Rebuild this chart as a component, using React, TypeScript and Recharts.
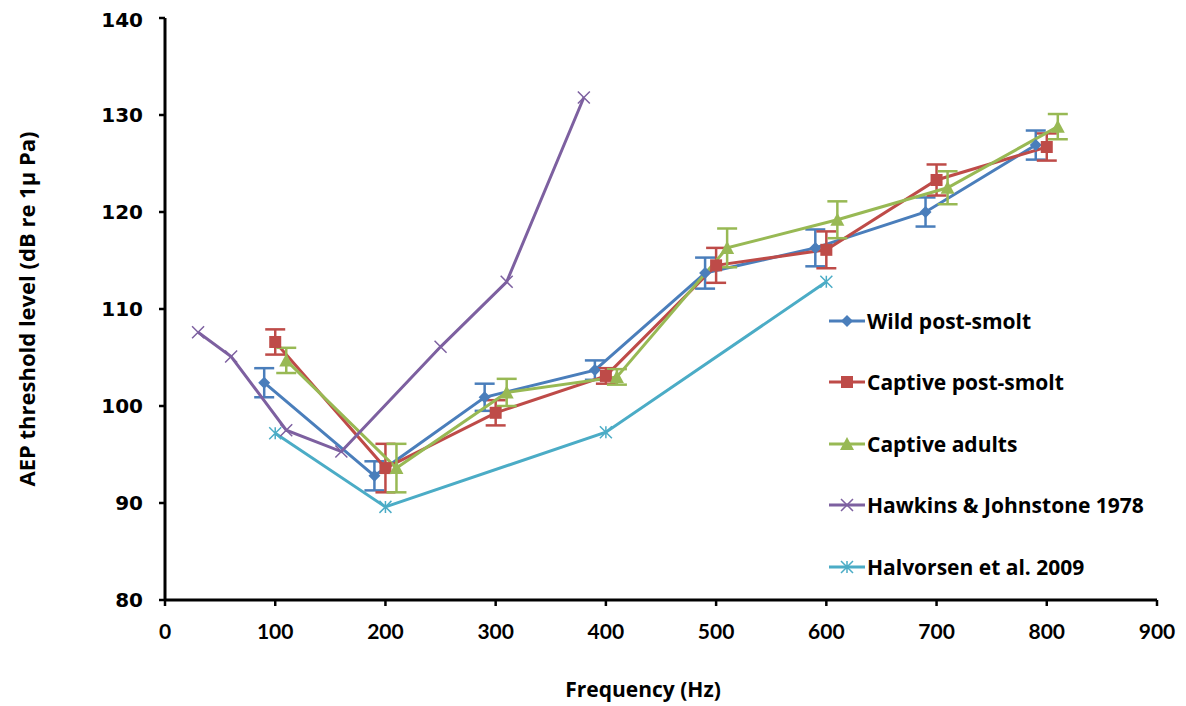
import { LineChart, Line, XAxis, YAxis, ErrorBar, Legend } from 'recharts';

// frequencies are offset by series in the original (wild -10 Hz, adults +10 Hz)
const wildFreq = [90, 190, 290, 390, 490, 590, 690, 790];
const wildLevel = [102.4, 92.8, 100.9, 103.7, 113.7, 116.3, 120.0, 126.9];
const wildErr = [1.5, 1.5, 1.4, 1.0, 1.6, 1.9, 1.5, 1.5];

const captiveFreq = [100, 200, 300, 400, 500, 600, 700, 800];
const captiveLevel = [106.6, 93.6, 99.3, 103.1, 114.5, 116.1, 123.3, 126.7];
const captiveErr = [1.3, 2.5, 1.3, 0.8, 1.8, 1.9, 1.6, 1.4];

const adultFreq = [110, 210, 310, 410, 510, 610, 710, 810];
const adultLevel = [104.7, 93.6, 101.4, 103.0, 116.3, 119.2, 122.5, 128.8];
const adultErr = [1.3, 2.5, 1.4, 0.8, 2.0, 1.9, 1.7, 1.3];

const hawkinsFreq = [30, 60, 110, 160, 250, 310, 380];
const hawkinsLevel = [107.6, 105.1, 97.5, 95.3, 106.1, 112.8, 131.8];

const halvorsenFreq = [100, 200, 400, 600];
const halvorsenLevel = [97.2, 89.6, 97.3, 112.8];

const xTicks = [0, 100, 200, 300, 400, 500, 600, 700, 800, 900];
const yTicks = [80, 90, 100, 110, 120, 130, 140];

const BLUE = '#4a7ebb';
const RED = '#be4b48';
const GREEN = '#98b954';
const PURPLE = '#7d60a0';
const CYAN = '#4bacc6';

const toRows = (freq: number[], level: number[], err?: number[]) =>
  freq.map((f, i) => ({ freq: f, level: level[i], err: err ? err[i] : 0 }));

const wildData = toRows(wildFreq, wildLevel, wildErr);
const captiveData = toRows(captiveFreq, captiveLevel, captiveErr);
const adultData = toRows(adultFreq, adultLevel, adultErr);
const hawkinsData = toRows(hawkinsFreq, hawkinsLevel);
const halvorsenData = toRows(halvorsenFreq, halvorsenLevel);

type MarkerKind = 'diamond' | 'square' | 'triangle' | 'cross' | 'star';

function Marker({ kind, cx, cy, color }: { kind: MarkerKind; cx: number; cy: number; color: string }) {
  const s = 6;
  if (kind === 'diamond')
    return <path d={`M${cx},${cy - s} L${cx + s},${cy} L${cx},${cy + s} L${cx - s},${cy} Z`} fill={color} />;
  if (kind === 'square')
    return <rect x={cx - s} y={cy - s} width={s * 2} height={s * 2} fill={color} />;
  if (kind === 'triangle')
    return <path d={`M${cx},${cy - s - 1} L${cx + s + 1},${cy + s} L${cx - s - 1},${cy + s} Z`} fill={color} />;
  if (kind === 'cross')
    return (
      <path
        d={`M${cx - s},${cy - s} L${cx + s},${cy + s} M${cx - s},${cy + s} L${cx + s},${cy - s}`}
        stroke={color}
        strokeWidth={1.5}
      />
    );
  return (
    <path
      d={`M${cx - s},${cy - s} L${cx + s},${cy + s} M${cx - s},${cy + s} L${cx + s},${cy - s} M${cx},${cy - s} L${cx},${cy + s}`}
      stroke={color}
      strokeWidth={1.5}
    />
  );
}

const dotFor = (kind: MarkerKind, color: string) => (props: any) =>
  <Marker key={`${kind}-${props.index}`} kind={kind} cx={props.cx} cy={props.cy} color={color} />;

const legendItems: { name: string; color: string; kind: MarkerKind }[] = [
  { name: 'Wild post-smolt', color: BLUE, kind: 'diamond' },
  { name: 'Captive post-smolt', color: RED, kind: 'square' },
  { name: 'Captive adults', color: GREEN, kind: 'triangle' },
  { name: 'Hawkins & Johnstone 1978', color: PURPLE, kind: 'cross' },
  { name: 'Halvorsen et al. 2009', color: CYAN, kind: 'star' },
];

function ChartLegend() {
  return (
    <div>
      {legendItems.map((it) => (
        <div key={it.name} style={{ display: 'flex', alignItems: 'center', height: 61.5 }}>
          <svg width={38} height={20}>
            <line x1={1} y1={10} x2={37} y2={10} stroke={it.color} strokeWidth={3} />
            <Marker kind={it.kind} cx={19} cy={10} color={it.color} />
          </svg>
          <span style={{ fontFamily: 'Open Sans', fontWeight: 700, fontSize: 21, color: '#000', marginLeft: 1 }}>
            {it.name}
          </span>
        </div>
      ))}
    </div>
  );
}

const lineProps = { strokeWidth: 3, isAnimationActive: false, activeDot: false as const };

export default function App() {
  return (
    <div style={{ background: '#fff', width: 1170, height: 698 }}>
      <LineChart width={1170} height={698} margin={{ top: 10, right: 21, bottom: 11, left: 5 }}>
        <XAxis
          type="number"
          dataKey="freq"
          domain={[0, 900]}
          ticks={xTicks}
          allowDuplicatedCategory={false}
          height={95}
          axisLine={{ stroke: '#000', strokeWidth: 3 }}
          tickLine={{ stroke: '#000', strokeWidth: 2.5 }}
          tickSize={6}
          tickMargin={18}
          tick={{ fill: '#000', fontFamily: 'Lato', fontWeight: 700, fontSize: 21 }}
          label={{
            value: 'Frequency (Hz)',
            position: 'insideBottom',
            offset: -2,
            dx: -18,
            fill: '#000',
            fontFamily: 'Open Sans',
            fontWeight: 700,
            fontSize: 21,
          }}
        />
        <YAxis
          type="number"
          dataKey="level"
          domain={[80, 140]}
          ticks={yTicks}
          width={152}
          axisLine={{ stroke: '#000', strokeWidth: 3 }}
          tickLine={{ stroke: '#000', strokeWidth: 2.5 }}
          tickSize={6}
          tickMargin={16}
          tick={{ fill: '#000', fontFamily: 'DejaVu Sans', fontWeight: 700, fontSize: 20 }}
          label={{
            value: 'AEP threshold level (dB re 1μ Pa)',
            angle: -90,
            position: 'insideLeft',
            offset: 14,
            style: { textAnchor: 'middle' },
            fill: '#000',
            fontFamily: 'Open Sans',
            fontWeight: 700,
            fontSize: 22,
          }}
        />
        <Legend
          layout="vertical"
          align="center"
          verticalAlign="middle"
          content={() => <ChartLegend />}
          wrapperStyle={{ left: 820, top: 282, width: 350 }}
        />
        <Line data={wildData} dataKey="level" name="Wild post-smolt" stroke={BLUE} dot={dotFor('diamond', BLUE)} {...lineProps}>
          <ErrorBar dataKey="err" direction="y" width={10} strokeWidth={2.5} stroke={BLUE} />
        </Line>
        <Line data={captiveData} dataKey="level" name="Captive post-smolt" stroke={RED} dot={dotFor('square', RED)} {...lineProps}>
          <ErrorBar dataKey="err" direction="y" width={10} strokeWidth={2.5} stroke={RED} />
        </Line>
        <Line data={adultData} dataKey="level" name="Captive adults" stroke={GREEN} dot={dotFor('triangle', GREEN)} {...lineProps}>
          <ErrorBar dataKey="err" direction="y" width={10} strokeWidth={2.5} stroke={GREEN} />
        </Line>
        <Line data={hawkinsData} dataKey="level" name="Hawkins & Johnstone 1978" stroke={PURPLE} dot={dotFor('cross', PURPLE)} {...lineProps} />
        <Line data={halvorsenData} dataKey="level" name="Halvorsen et al. 2009" stroke={CYAN} dot={dotFor('star', CYAN)} {...lineProps} />
      </LineChart>
    </div>
  );
}
